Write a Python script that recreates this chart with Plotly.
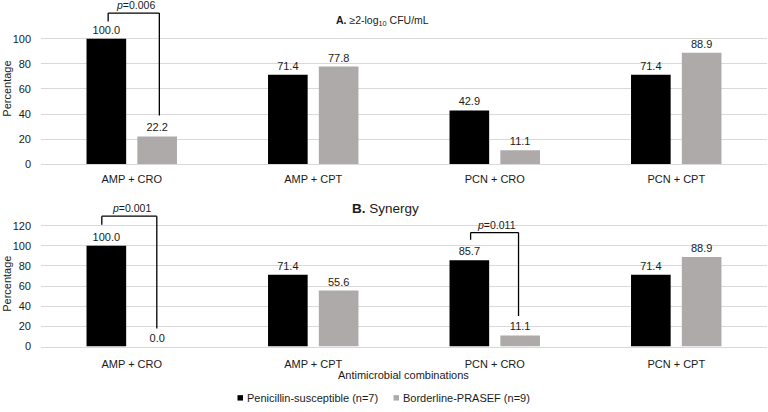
import plotly.graph_objects as go

# ---------------- data ----------------
categories = ["AMP + CRO", "AMP + CPT", "PCN + CRO", "PCN + CPT"]
series_names = ["Penicillin-susceptible (n=7)", "Borderline-PRASEF (n=9)"]
killing_susceptible = [100.0, 71.4, 42.9, 71.4]
killing_borderline = [22.2, 77.8, 11.1, 88.9]
synergy_susceptible = [100.0, 71.4, 85.7, 71.4]
synergy_borderline = [0.0, 55.6, 11.1, 88.9]
top_ticks = [0, 20, 40, 60, 80, 100]
bottom_ticks = [0, 20, 40, 60, 80, 100, 120]
# p-value brackets: (panel, category index, label, top, left end, right end)
brackets = [
    ("top", 0, "0.006", 120.4, 113.8, 38.8, -0.13, 0.152),
    ("bottom", 0, "0.001", 129.5, 121.0, 18.0, -0.165, 0.138),
    ("bottom", 2, "0.011", 113.2, 106.0, 30.3, -0.133, 0.131),
]

# ---------------- style ----------------
W, H = 768, 412
L_PX, R_PX = 41, 767
BLACK = "#000000"
GRAY = "#AEAAAA"
GRID = "#D9D9D9"
TXT = "#1a1a1a"
FONT = "Liberation Sans, Arial, sans-serif"


def px_x(v):
    return (v - L_PX) / (R_PX - L_PX)


def px_y(v):
    return (H - v) / H


fig = go.Figure()

panels = [
    ("x", "y", killing_susceptible, killing_borderline),
    ("x2", "y2", synergy_susceptible, synergy_borderline),
]
for xa, ya, s1, s2 in panels:
    for vals, name, col in [(s1, series_names[0], BLACK), (s2, series_names[1], GRAY)]:
        fig.add_trace(go.Bar(
            x=categories, y=vals, name=name, xaxis=xa, yaxis=ya,
            marker=dict(color=col, line=dict(width=0)),
            texttemplate="%{y:.1f}", textposition="outside",
            textfont=dict(size=11, color=TXT, family=FONT),
            cliponaxis=False, showlegend=False,
        ))

axis_common = dict(
    showgrid=True, gridcolor=GRID, gridwidth=1,
    zeroline=False, showline=False,
    tickfont=dict(size=11, color=TXT, family=FONT),
    ticks="", fixedrange=True,
)

xaxis_common = dict(
    domain=[0, 1], type="category",
    showgrid=False, showline=True, linecolor=GRID, linewidth=1,
    ticks="outside", tickcolor="rgba(0,0,0,0)",
    tickfont=dict(size=11, color=TXT, family=FONT),
)

fig.update_layout(
    width=W, height=H,
    margin=dict(l=L_PX, r=W - R_PX, t=0, b=0),
    paper_bgcolor="white", plot_bgcolor="white",
    font=dict(family=FONT, size=11, color=TXT),
    barmode="group", bargap=0.44, bargroupgap=0.22,
    showlegend=False,
    xaxis=dict(anchor="y", ticklen=5, **xaxis_common),
    xaxis2=dict(anchor="y2", ticklen=7, **xaxis_common),
    yaxis=dict(domain=[px_y(166.7), px_y(7.45)], anchor="x", range=[0, 125],
               tickvals=top_ticks, ticklabelstandoff=9, **axis_common),
    yaxis2=dict(domain=[px_y(351.7), px_y(213.7)], anchor="x2", range=[0, 135],
                tickvals=bottom_ticks, ticklabelstandoff=9, **axis_common),
)

# p-value brackets
for panel, ci, ptxt, top, lb, rb, lo, ro in brackets:
    xr, yr = ("x", "y") if panel == "top" else ("x2", "y2")
    xl, xrr = ci + lo, ci + ro
    for (x0, y0, x1, y1) in [(xl, lb, xl, top), (xl, top, xrr, top), (xrr, top, xrr, rb)]:
        fig.add_shape(type="line", xref=xr, yref=yr, x0=x0, y0=y0, x1=x1, y1=y1,
                      line=dict(color="#000000", width=1.3))
    fig.add_annotation(xref=xr, yref=yr, x=(xl + xrr) / 2 + 0.01, y=top,
                       yanchor="bottom", showarrow=False, yshift=0,
                       text=f"<i>p</i>=" + ptxt,
                       font=dict(size=10.5, color=TXT, family=FONT))

# panel titles
fig.add_annotation(xref="paper", yref="paper", x=px_x(382), y=px_y(21),
                   showarrow=False, xanchor="center", yanchor="middle",
                   text="<b>A.</b> ≥2-log<sub>10</sub> CFU/mL",
                   font=dict(size=10.5, color=TXT, family=FONT))
fig.add_annotation(xref="paper", yref="paper", x=px_x(385), y=px_y(211.5),
                   showarrow=False, xanchor="center", yanchor="middle",
                   text="<b>B.</b> Synergy",
                   font=dict(size=13.5, color=TXT, family=FONT))

# y axis titles
for yc in (90, 288):
    fig.add_annotation(xref="paper", yref="paper", x=px_x(7), y=px_y(yc),
                       showarrow=False, textangle=-90, xanchor="center", yanchor="middle",
                       text="Percentage", font=dict(size=11, color=TXT, family=FONT))

# x axis title
fig.add_annotation(xref="paper", yref="paper", x=px_x(403), y=px_y(381),
                   showarrow=False, xanchor="center", yanchor="middle",
                   text="Antimicrobial combinations",
                   font=dict(size=11, color=TXT, family=FONT))

# legend (manual, Excel-style small squares)
for sx, tx, col, name in [(237.5, 244.5, BLACK, series_names[0]),
                          (393.5, 400.5, GRAY, series_names[1])]:
    fig.add_shape(type="rect", xref="paper", yref="paper",
                  x0=px_x(sx), x1=px_x(sx + 5.5), y0=px_y(406.5), y1=px_y(401),
                  fillcolor=col, line=dict(width=0))
    fig.add_annotation(xref="paper", yref="paper", x=px_x(tx), y=px_y(403.5),
                       showarrow=False, xanchor="left", yanchor="middle",
                       text=name, font=dict(size=11, color=TXT, family=FONT))

fig.write_html("out.html")
